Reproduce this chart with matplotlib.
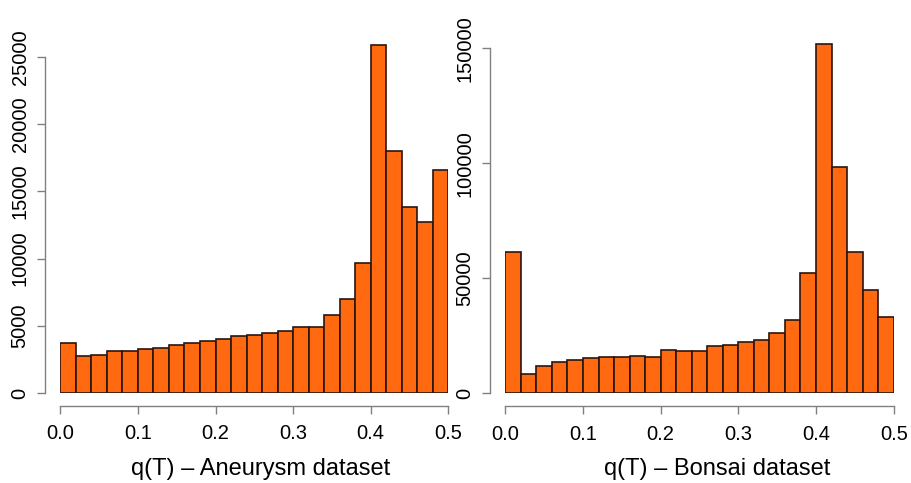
import numpy as np
import matplotlib.pyplot as plt

plt.rcParams['font.family'] = ['Liberation Sans', 'DejaVu Sans']

# Histogram bins (25 bins of width 0.02 from 0 to 0.5)
bin_edges = np.linspace(0, 0.5, 26)

# Counts per bin
aneurysm_counts = [3750, 2730, 2860, 3150, 3150, 3250, 3380, 3550, 3750, 3850,
                   4050, 4240, 4350, 4470, 4640, 4910, 4910, 5830, 7000, 9650,
                   25920, 17980, 13820, 12750, 16590]
bonsai_counts = [61400, 8260, 11740, 13480, 14600, 15200, 15650, 15650, 16350, 15800,
                 18830, 18260, 18260, 20430, 21000, 22300, 23300, 26350, 31870, 52170,
                 151700, 98500, 61300, 44800, 33200]

x_ticks = [0.0, 0.1, 0.2, 0.3, 0.4, 0.5]
aneurysm_yticks = [0, 5000, 10000, 15000, 20000, 25000]
bonsai_yticks = [0, 50000, 100000, 150000]

bar_color = '#ff6a10'
edge_color = '#2a1510'
axis_color = '#808080'

W, H = 911, 483
fig = plt.figure(figsize=(W / 100, H / 100), dpi=100)


def make_panel(x0, x1, y0_px, px_per_unit, ymax, counts, yticks, label, label_x):
    bottom = 1 - y0_px / H
    height = ymax * px_per_unit / H
    ax = fig.add_axes([x0 / W, bottom, (x1 - x0) / W, height])
    ax.hist(bin_edges[:-1], bins=bin_edges, weights=counts,
            color=bar_color, edgecolor=edge_color, linewidth=1.2)
    ax.set_xlim(0, 0.5)
    ax.set_ylim(0, ymax)
    for s in ['top', 'right']:
        ax.spines[s].set_visible(False)
    ax.spines['left'].set_position(('outward', 11))
    ax.spines['bottom'].set_position(('outward', 9.5))
    ax.spines['left'].set_bounds(yticks[0], yticks[-1])
    ax.spines['bottom'].set_bounds(0, 0.5)
    for s in ['left', 'bottom']:
        ax.spines[s].set_color(axis_color)
        ax.spines[s].set_linewidth(1.0)
    ax.set_xticks(x_ticks)
    ax.set_xticklabels([f'{v:.1f}' for v in x_ticks])
    ax.set_yticks(yticks)
    ax.set_yticklabels([str(v) for v in yticks], rotation=90, va='center')
    ax.tick_params(colors=axis_color, labelcolor='black', labelsize=14.5,
                   length=6, width=1.0)
    ax.tick_params(axis='x', pad=7)
    ax.tick_params(axis='y', pad=5)
    ax.set_xlabel(label, fontsize=17)
    ax.xaxis.set_label_coords(label_x, -0.182)
    return ax


make_panel(60.3, 448.3, 393.0, 336 / 25000, 26500, aneurysm_counts,
           aneurysm_yticks, 'q(T) \u2013 Aneurysm dataset', 0.517)
make_panel(505.3, 893.7, 393.3, 345 / 150000, 155000, bonsai_counts,
           bonsai_yticks, 'q(T) \u2013 Bonsai dataset', 0.545)

fig.savefig('out.png', dpi=100)
